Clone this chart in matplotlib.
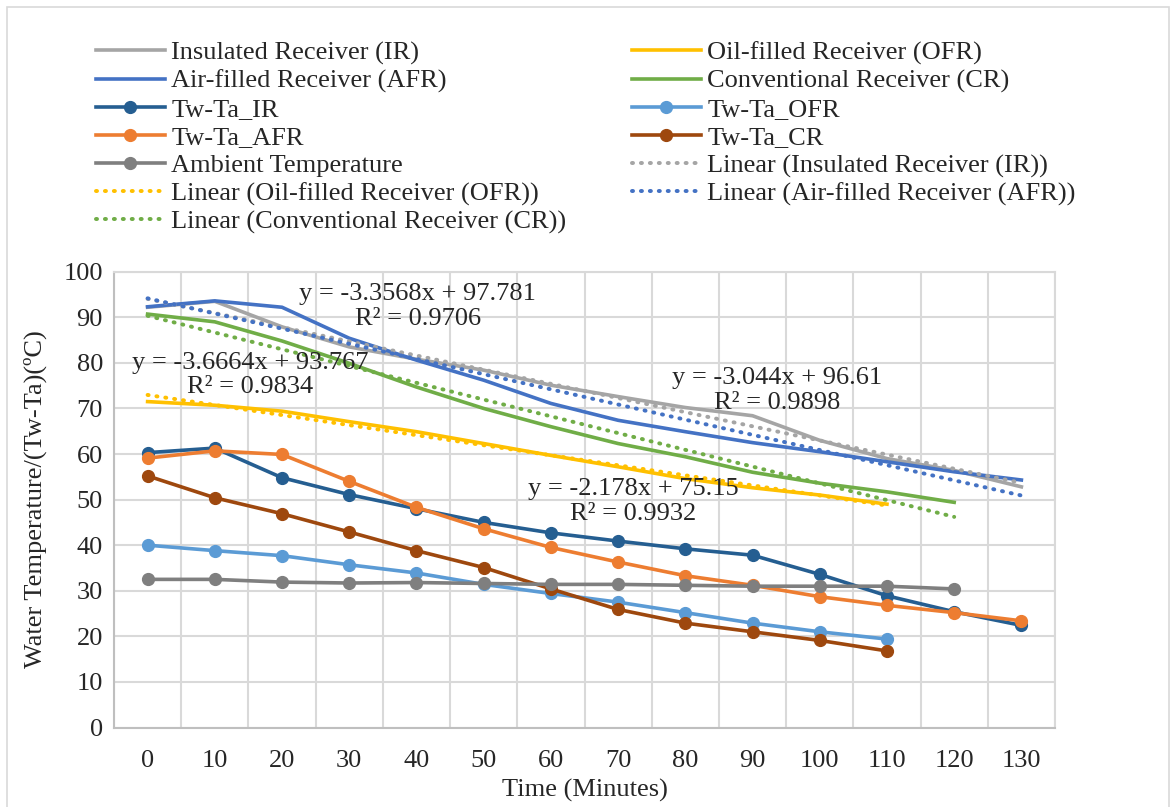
import numpy as np
import matplotlib
matplotlib.use('Agg')
import matplotlib.pyplot as plt
from matplotlib.patches import Rectangle

plt.rcParams['font.family'] = ['Liberation Serif', 'DejaVu Serif']

# ---------------- data ----------------
minutes = [0, 10, 20, 30, 40, 50, 60, 70, 80, 90, 100, 110, 120, 130]

ir_temp = [92.2, 93.5, 87.9, 83.5, 80.8, 78.4, 75.1, 72.6, 70.2, 68.4, 63.0, 59.0, 56.4, 52.8]
ofr_temp = [71.5, 70.7, 69.4, 67.1, 64.9, 62.3, 59.7, 57.2, 54.6, 52.6, 51.0, 49.0]
afr_temp = [92.3, 93.6, 92.2, 85.4, 80.6, 76.2, 71.1, 67.4, 64.9, 62.5, 60.5, 58.3, 56.1, 54.3]
cr_temp = [90.7, 89.0, 84.8, 79.9, 74.7, 70.0, 66.0, 62.3, 59.4, 56.0, 53.6, 51.7, 49.4]

twta_ir = [60.3, 61.3, 54.8, 51.1, 48.0, 45.0, 42.7, 40.9, 39.2, 37.8, 33.6, 28.9, 25.4, 22.4]
twta_ofr = [40.0, 38.8, 37.7, 35.7, 33.9, 31.4, 29.4, 27.5, 25.2, 22.9, 21.0, 19.4]
twta_afr = [59.1, 60.7, 59.9, 54.0, 48.3, 43.6, 39.5, 36.3, 33.3, 31.2, 28.7, 26.8, 25.2, 23.4]
twta_cr = [55.2, 50.4, 46.9, 42.9, 38.8, 35.1, 30.4, 25.9, 22.9, 21.0, 19.1, 16.8]
ambient = [32.5, 32.5, 31.9, 31.7, 31.8, 31.6, 31.4, 31.4, 31.2, 31.0, 31.0, 31.0, 30.4]

names = ['Insulated Receiver (IR)', 'Oil-filled Receiver (OFR)',
         'Air-filled Receiver (AFR)', 'Conventional Receiver (CR)',
         'Tw-Ta_IR', 'Tw-Ta_OFR', 'Tw-Ta_AFR', 'Tw-Ta_CR', 'Ambient Temperature']

trend_labels = {
    'IR': 'y = -3.044x + 96.61\nR² = 0.9898',
    'OFR': 'y = -2.178x + 75.15\nR² = 0.9932',
    'AFR': 'y = -3.3568x + 97.781\nR² = 0.9706',
    'CR': 'y = -3.6664x + 93.767\nR² = 0.9834',
}

# ---------------- styling ----------------
c_ir, c_ofr, c_afr, c_cr = '#A5A5A5', '#FFC000', '#4472C4', '#70AD47'
c_tir, c_tofr, c_tafr, c_tcr, c_amb = '#255E91', '#5B9BD5', '#ED7D31', '#9E480E', '#7F7F7F'
grid_c = '#D9D9D9'
txt_c = '#262626'
FS = 19

W, H = 1176, 807
fig = plt.figure(figsize=(W / 100, H / 100), dpi=100)
fig.patches.append(Rectangle((7 / W, -0.01), (1169 - 7) / W, 1 - 7 / H + 0.01,
                             transform=fig.transFigure, fill=False,
                             edgecolor=grid_c, lw=1.2))

ax_l, ax_r, ax_t, ax_b = 114, 1055, 271.7, 727.5
ax = fig.add_axes([ax_l / W, 1 - ax_b / H, (ax_r - ax_l) / W, (ax_b - ax_t) / H])

LW = 2.6
MS = 8.5
dot = (0, (0.25, 2.0))

def xs(arr):
    return np.arange(len(arr))

handles = {}
handles['IR'], = ax.plot(xs(ir_temp), ir_temp, color=c_ir, lw=LW, label=names[0], zorder=3)
handles['OFR'], = ax.plot(xs(ofr_temp), ofr_temp, color=c_ofr, lw=LW, label=names[1], zorder=3)
handles['AFR'], = ax.plot(xs(afr_temp), afr_temp, color=c_afr, lw=LW, label=names[2], zorder=3)
handles['CR'], = ax.plot(xs(cr_temp), cr_temp, color=c_cr, lw=LW, label=names[3], zorder=3)

mk = dict(marker='o', markersize=MS, lw=LW, zorder=4)
handles['TIR'], = ax.plot(xs(twta_ir), twta_ir, color=c_tir, label=names[4], **mk)
handles['TOFR'], = ax.plot(xs(twta_ofr), twta_ofr, color=c_tofr, label=names[5], **mk)
handles['TAFR'], = ax.plot(xs(twta_afr), twta_afr, color=c_tafr, label=names[6], **mk)
handles['TCR'], = ax.plot(xs(twta_cr), twta_cr, color=c_tcr, label=names[7], **mk)
handles['AMB'], = ax.plot(xs(ambient), ambient, color=c_amb, label=names[8], **mk)

# linear trendlines fitted to the series
base_names = dict(zip(['IR', 'OFR', 'AFR', 'CR'], names[:4]))
for key, arr, col in [('IR', ir_temp, c_ir), ('OFR', ofr_temp, c_ofr),
                      ('AFR', afr_temp, c_afr), ('CR', cr_temp, c_cr)]:
    x = xs(arr)
    k, b = np.polyfit(x, arr, 1)
    handles['L' + key], = ax.plot(x, k * x + b, color=col, lw=LW * 1.1, linestyle=dot,
                                  dash_capstyle='round',
                                  label='Linear (' + base_names[key] + ')', zorder=5)

# trendline equations
eq_pos = {'AFR': (4.02, 92.4), 'CR': (1.53, 77.3), 'IR': (9.37, 73.9), 'OFR': (7.23, 49.6)}
for key, (px, py) in eq_pos.items():
    ax.text(px, py, trend_labels[key], ha='center', va='center', multialignment='center',
            fontsize=FS, color=txt_c, linespacing=1.15, zorder=6)

# axes
ax.set_xlim(-0.5, len(minutes) - 0.5)
ax.set_ylim(0, 100)
ax.set_xticks(np.arange(len(minutes)))
ax.set_xticklabels([str(m) for m in minutes])
ax.set_xticks(np.arange(-0.5, len(minutes), 1), minor=True)
ax.set_yticks(np.arange(0, 101, 10))
ax.tick_params(axis='both', which='both', length=0, labelsize=FS, colors=txt_c, pad=8)
ax.tick_params(axis='x', pad=16)
ax.grid(axis='y', which='major', color=grid_c, lw=1.5, zorder=0)
ax.grid(axis='x', which='minor', color=grid_c, lw=1.5, zorder=0)
for s in ax.spines.values():
    s.set_color(grid_c)
    s.set_linewidth(1.5)
ax.spines['bottom'].set_color('#BFBFBF')
ax.spines['left'].set_color('#BFBFBF')
ax.set_axisbelow(True)

ax.set_xlabel('Time (Minutes)', fontsize=FS, color=txt_c, labelpad=5)
ax.set_ylabel('Water Temperature/(Tw-Ta)(ºC)', fontsize=FS, color=txt_c, labelpad=12)

# legend, two columns laid out row by row
col1 = ['IR', 'AFR', 'TIR', 'TAFR', 'AMB', 'LOFR', 'LCR']
col2 = ['OFR', 'CR', 'TOFR', 'TCR', 'LIR', 'LAFR']
leg_kw = dict(frameon=False, fontsize=FS, handlelength=2.6, handletextpad=0.25,
              labelspacing=0.17, borderpad=0, borderaxespad=0, loc='upper left',
              labelcolor=txt_c)
fig.legend([handles[k] for k in col1], [handles[k].get_label() for k in col1],
           bbox_to_anchor=(96 / W, 1 - 41 / H), **leg_kw)
fig.legend([handles[k] for k in col2], [handles[k].get_label() for k in col2],
           bbox_to_anchor=(632 / W, 1 - 41 / H), **leg_kw)

fig.savefig('out.png', dpi=100)
